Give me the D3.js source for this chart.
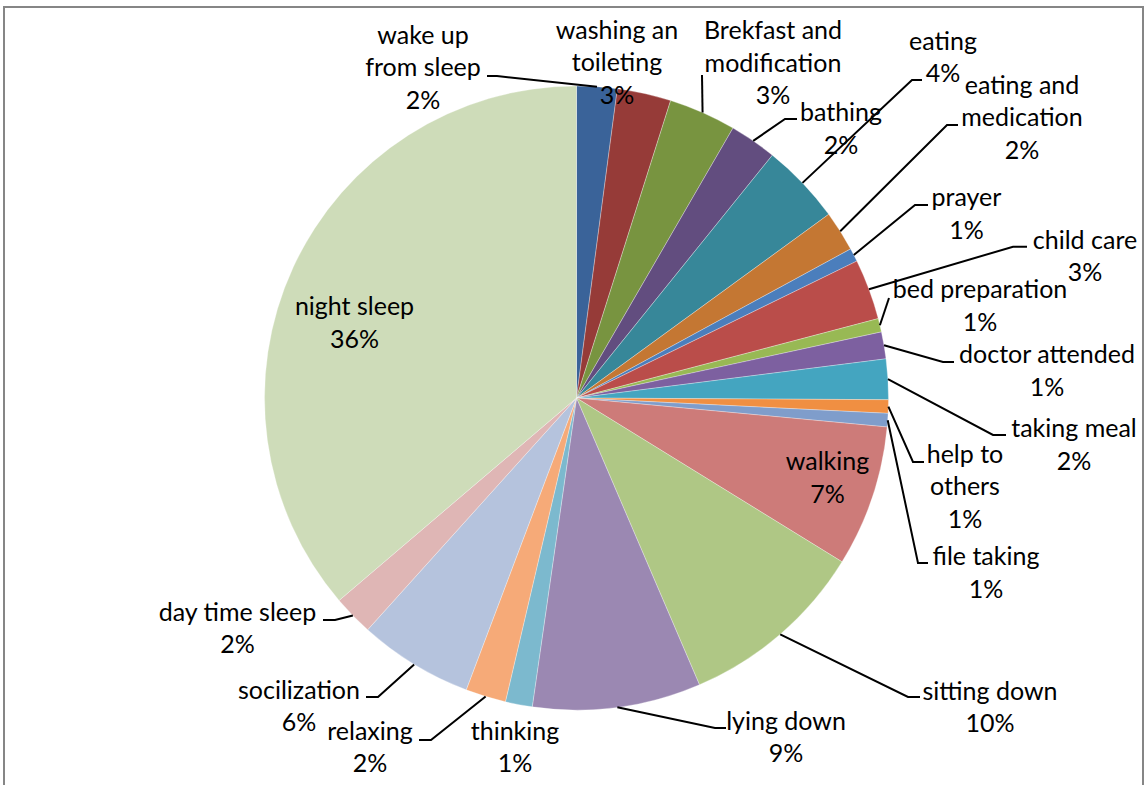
<!DOCTYPE html>
<html>
<head>
<meta charset="utf-8">
<script src="https://cdn.jsdelivr.net/npm/d3@7"></script>
<style>
  html, body { margin: 0; padding: 0; background: #ffffff; }
  svg { display: block; }
  text { font-family: Lato, "Noto Sans", sans-serif; font-size: 25px; fill: #000; }
</style>
</head>
<body>
<svg id="chart" width="1145" height="785"></svg>
<script>
// Daily activity breakdown, clockwise from 12 o'clock
const categories = [
  "wake up\nfrom sleep", "washing an\ntoileting", "Brekfast and\nmodification", "bathing",
  "eating", "eating and\nmedication", "prayer", "child care", "bed preparation",
  "doctor attended", "taking meal", "help to\nothers", "file taking", "walking",
  "sitting down", "lying down", "thinking", "relaxing", "socilization",
  "day time sleep", "night sleep"
];
const values = [30, 40, 50, 35, 60, 30, 10, 45, 10, 20, 30, 10, 10, 105, 140, 125, 20, 30, 85, 30, 520];
const sliceColors = [
  "#3a6399", "#963b38", "#789440", "#624d7f", "#378799", "#c47733", "#4b7ebc",
  "#ba4d4a", "#98b954", "#7d60a0", "#44a5c0", "#f08f42", "#7f9dcb", "#cd7b79",
  "#afc785", "#9b88b2", "#7cb9ce", "#f6aa78", "#b5c3dd", "#dfb6b5", "#cedcb9"
];

// Label placement: [textX, textY, leaderStartX, leaderStartY, elbowX]; labels without leader use nulls
const labelLayout = [
  [423, 67.5, 487, 76, 497],
  [617, 62.5, null, null, null],
  [773, 63, 702, 75, 702],
  [841, 129, 797, 119, 785],
  [943, 57.5, 922, 80, 912],
  [1022, 117.5, 958, 125, 947],
  [966.5, 214, 928, 205, 915],
  [1085, 256.5, 1027, 246.7, 1013],
  [980, 306, 889, 298, 889],
  [1047, 371, 954, 362, 943],
  [1074, 445, 1006, 435, 993],
  [965, 486.5, 924, 462, 913],
  [986, 573, 928, 563, 918],
  [827.5, 478, null, null, null],
  [990, 707.5, 920, 697, 908],
  [786, 737.5, 726, 728, 715],
  [515, 747.5, null, null, null],
  [370, 747.5, 419, 740, 431],
  [299, 706.5, 366, 697, 378],
  [237.5, 628.5, 323, 620, 335],
  [354.5, 323, null, null, null]
];

const svg = d3.select("#chart");
const cx = 576.5, cy = 398, radius = 312, lineGap = 32.5, textShift = 2.5;

// Chart area frame
svg.append("rect")
  .attr("x", 4).attr("y", 7)
  .attr("width", 1139).attr("height", 800)
  .attr("fill", "#fff")
  .attr("stroke", "#868686")
  .attr("stroke-width", 2);

const total = d3.sum(values);
const rows = categories.map((c, i) => ({ name: c, value: values[i], color: sliceColors[i], layout: labelLayout[i] }));

const pie = d3.pie().sort(null).value(d => d.value).startAngle(0).endAngle(2 * Math.PI);
const arcs = pie(rows);

const arc = d3.arc().innerRadius(0).outerRadius(radius);
const edge = d3.arc().innerRadius(radius).outerRadius(radius);

const g = svg.append("g").attr("transform", `translate(${cx},${cy})`);

g.selectAll("path.slice")
  .data(arcs)
  .join("path")
  .attr("class", "slice")
  .attr("d", arc)
  .attr("fill", d => d.data.color)
  .attr("stroke", "#ffffff")
  .attr("stroke-opacity", 0.5)
  .attr("stroke-width", 0.6);

// Leader lines from label to the slice's outer edge
const leaders = svg.append("g");
arcs.forEach(d => {
  const L = d.data.layout;
  if (L[2] == null) return;
  const [ex, ey] = edge.centroid(d);
  leaders.append("polyline")
    .attr("points", [[L[2], L[3]], [L[4], L[3]], [cx + ex, cy + ey]].map(p => p.join(",")).join(" "))
    .attr("fill", "none")
    .attr("stroke", "#000")
    .attr("stroke-width", 2);
});

// Category and percentage labels
const pct = v => Math.round(v / total * 100) + "%";
const labels = svg.append("g");
arcs.forEach(d => {
  const L = d.data.layout;
  const lines = d.data.name.split("\n").concat([pct(d.data.value)]);
  const t = labels.append("text")
    .attr("text-anchor", "middle")
    .attr("dominant-baseline", "middle");
  lines.forEach((s, k) => {
    t.append("tspan")
      .attr("x", L[0])
      .attr("y", L[1] + textShift + (k - (lines.length - 1) / 2) * lineGap)
      .text(s);
  });
});
</script>
</body>
</html>
